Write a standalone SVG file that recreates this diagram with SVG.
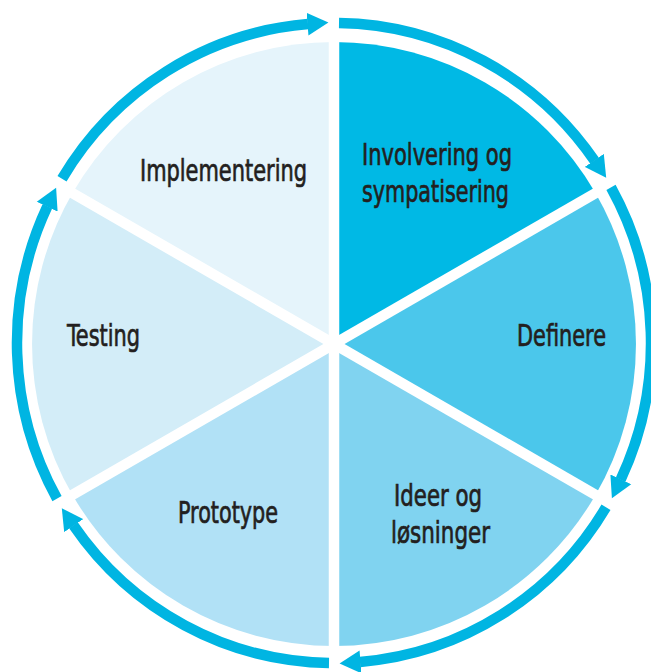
<svg xmlns="http://www.w3.org/2000/svg" width="651" height="672" viewBox="0 0 651 672">
  <style>
    .label { font-family: "DejaVu Sans Condensed", "Liberation Sans Narrow", "Liberation Sans", sans-serif; font-size: 31px; fill: #231f20; stroke: #231f20; stroke-width: 0.7; }
    .divider { stroke: #ffffff; stroke-width: 10.5; stroke-linecap: butt; }
    .cycle { fill: none; stroke: #00b5e2; stroke-width: 10.5; stroke-linecap: butt; marker-end: url(#head); }
  </style>
  <defs>
    <marker id="head" viewBox="0 -12 22 24" markerWidth="22" markerHeight="24" refX="0.5" refY="0" orient="auto" markerUnits="userSpaceOnUse">
      <path d="M0,-11.5 L21,0 L0,11.5 Z" fill="#00b5e2"/>
    </marker>
  </defs>

  <rect width="651" height="672" fill="#ffffff"/>

  <!-- six phases of the cycle, centre (334,344), radius 302 -->
  <g id="involvering">
    <path d="M334,344 L334,42 A302,302 0 0 1 595.5,193 Z" fill="#00b9e5"/>
    <text class="label" x="362" y="165" textLength="150" lengthAdjust="spacingAndGlyphs">Involvering og</text>
    <text class="label" x="362" y="202" textLength="147" lengthAdjust="spacingAndGlyphs">sympatisering</text>
  </g>
  <g id="definere">
    <path d="M334,344 L595.5,193 A302,302 0 0 1 595.5,495 Z" fill="#4bc7eb"/>
    <text class="label" x="517" y="346" textLength="89" lengthAdjust="spacingAndGlyphs">Definere</text>
  </g>
  <g id="ideer">
    <path d="M334,344 L595.5,495 A302,302 0 0 1 334,646 Z" fill="#80d3f0"/>
    <text class="label" x="394" y="506" textLength="88" lengthAdjust="spacingAndGlyphs">Ideer og</text>
    <text class="label" x="391" y="543" textLength="99" lengthAdjust="spacingAndGlyphs">løsninger</text>
  </g>
  <g id="prototype">
    <path d="M334,344 L334,646 A302,302 0 0 1 72.5,495 Z" fill="#b1e1f6"/>
    <text class="label" x="178" y="523" textLength="100" lengthAdjust="spacingAndGlyphs">Prototype</text>
  </g>
  <g id="testing">
    <path d="M334,344 L72.5,495 A302,302 0 0 1 72.5,193 Z" fill="#d3edf8"/>
    <text class="label" x="67" y="346" textLength="73" lengthAdjust="spacingAndGlyphs">Testing</text>
  </g>
  <g id="implementering">
    <path d="M334,344 L72.5,193 A302,302 0 0 1 334,42 Z" fill="#e5f4fb"/>
    <text class="label" x="140" y="181" textLength="167" lengthAdjust="spacingAndGlyphs">Implementering</text>
  </g>

  <!-- white gaps between the phases -->
  <g id="dividers">
    <line class="divider" x1="334" y1="36" x2="334" y2="652"/>
    <line class="divider" x1="67" y1="190" x2="601" y2="498"/>
    <line class="divider" x1="67" y1="498" x2="601" y2="190"/>
  </g>

  <!-- clockwise arrows around the cycle -->
  <g id="connectors">
    <path class="cycle" d="M339,23 A317,320 0 0 1 594.6,160.8"/>
    <path class="cycle" d="M611,187.4 A317,320 0 0 1 620.6,479.8"/>
    <path class="cycle" d="M606,507.3 A317,320 0 0 1 360,661.9"/>
    <path class="cycle" d="M329,663 A317,320 0 0 1 73.4,525.2"/>
    <path class="cycle" d="M57,498.6 A317,320 0 0 1 47.4,206.2"/>
    <path class="cycle" d="M62,178.7 A317,320 0 0 1 308,24.1"/>
  </g>
</svg>
